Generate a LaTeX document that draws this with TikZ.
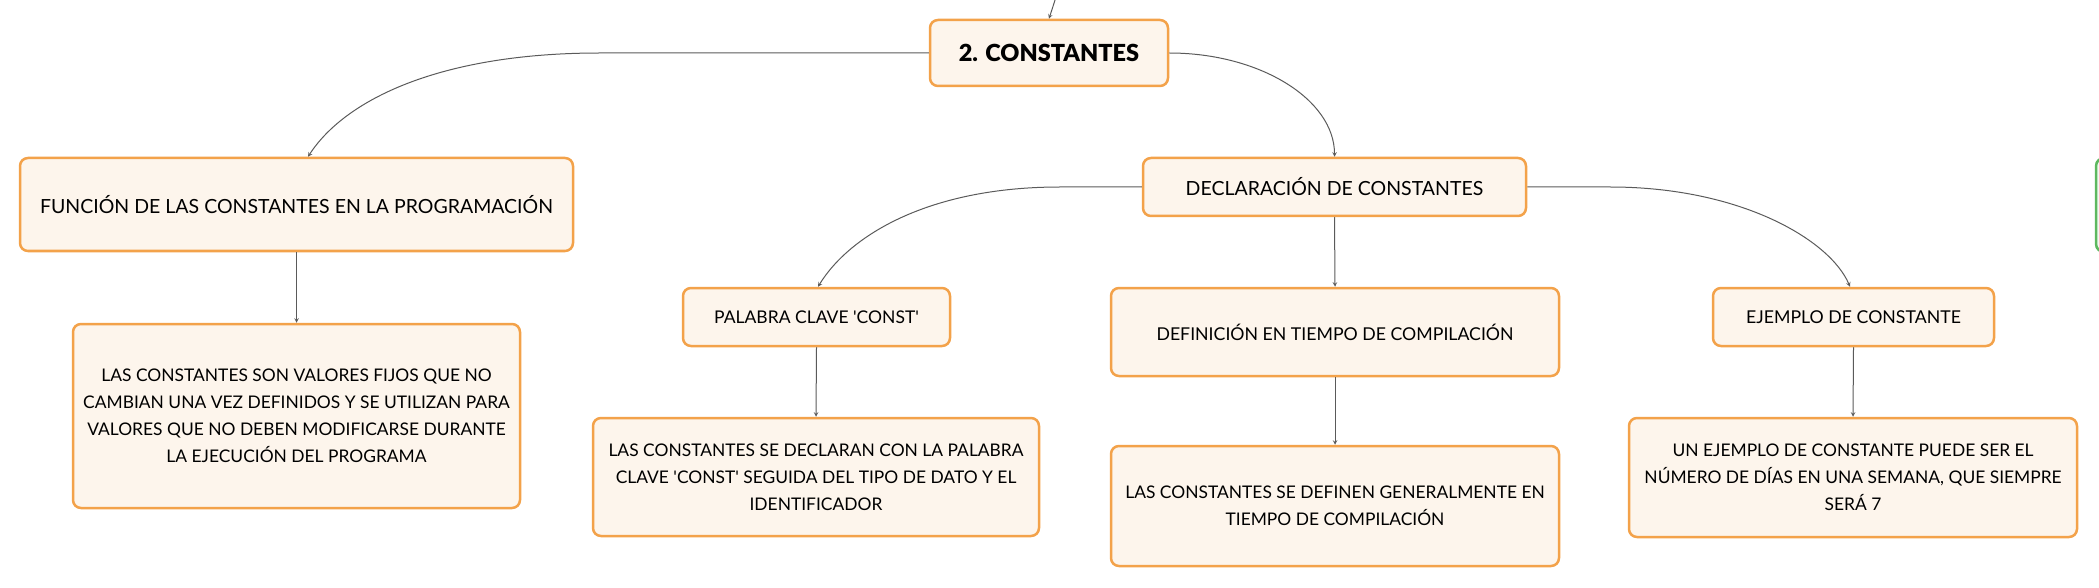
\documentclass[tikz,border=0pt]{standalone}
\usepackage{fontspec}
\setmainfont{Lato}
\newfontfamily\gruesa{Lato Black}
\definecolor{borde}{HTML}{F3A24A}
\definecolor{relleno}{HTML}{FDF5EC}
\definecolor{gris}{HTML}{5A5A5A}
\definecolor{verde}{HTML}{5DB85F}
\tikzset{
  caja/.style={draw=borde, fill=relleno, line width=2.5pt, rounded corners=8pt,
    align=center, inner sep=0pt, font=\fontsize{19.5}{27}\selectfont},
  texto/.style={caja, font=\fontsize{17.4}{27}\selectfont},
  linea/.style={draw=gris, line width=1pt, ->},
}
\begin{document}
\begin{tikzpicture}[x=1pt,y=-1pt,>=stealth]
   \useasboundingbox (0,0) rectangle (2099,588);
   \begin{scope}
   \clip (0,0) rectangle (2099,588);

   % ノード
   \node [caja, minimum width=238, minimum height=66, font=\fontsize{23.5}{27}\selectfont\gruesa] (const) at (1049,53) {2. CONSTANTES};
   \node [caja, minimum width=553, minimum height=93] (func) at (296.5,204.5) {FUNCIÓN DE LAS CONSTANTES EN LA PROGRAMACIÓN};
   \node [texto, minimum width=447, minimum height=184] (funcc) at (296.5,416) {LAS CONSTANTES SON VALORES FIJOS QUE NO\\ CAMBIAN UNA VEZ DEFINIDOS Y SE UTILIZAN PARA\\ VALORES QUE NO DEBEN MODIFICARSE DURANTE\\ LA EJECUCIÓN DEL PROGRAMA};
   \node [caja, minimum width=383, minimum height=58] (decl) at (1334.5,187) {DECLARACIÓN DE CONSTANTES};
   \node [caja, minimum width=267, minimum height=58, font=\fontsize{17.5}{27}\selectfont] (palabra) at (816.5,317) {PALABRA CLAVE \textquotesingle CONST\textquotesingle};
   \node [caja, minimum width=448, minimum height=88, font=\fontsize{17.7}{27}\selectfont] (defin) at (1335,332) {DEFINICIÓN EN TIEMPO DE COMPILACIÓN};
   \node [caja, minimum width=281, minimum height=58, font=\fontsize{17.7}{27}\selectfont] (ejemplo) at (1853.5,317) {EJEMPLO DE CONSTANTE};
   \node [texto, minimum width=446, minimum height=118] (palc) at (816,477) {LAS CONSTANTES SE DECLARAN CON LA PALABRA\\ CLAVE \textquotesingle CONST\textquotesingle\ SEGUIDA DEL TIPO DE DATO Y EL\\ IDENTIFICADOR};
   \node [texto, minimum width=448, minimum height=120] (defc) at (1335,506) {LAS CONSTANTES SE DEFINEN GENERALMENTE EN\\ TIEMPO DE COMPILACIÓN};
   \node [texto, minimum width=448, minimum height=119] (ejc) at (1853,477.5) {UN EJEMPLO DE CONSTANTE PUEDE SER EL\\ NÚMERO DE DÍAS EN UNA SEMANA, QUE SIEMPRE\\ SERÁ 7};

   % 右端の枠
   \draw [verde, line width=2.5pt, rounded corners=8pt, fill=verde!8] (2096,158) rectangle (2170,252);

   % 接続線
   \coordinate (arriba) at (1056,-3);
   \draw [linea] (arriba) -- (const.north);
   \draw [linea] (const.west) -- ++(-329,0) .. controls +(-160,0) and +(37,-57) .. ([xshift=11.5pt]func.north);
   \draw [linea] (const.east) .. controls +(91,0) and +(0,-57) .. (decl.north);
   \draw [linea] (decl.west) -- ++(-82,0) .. controls +(-130,0) and +(32,-52) .. ([xshift=1.5pt]palabra.north);
   \draw [linea] (decl.east) -- ++(83,0) .. controls +(130,0) and +(-20,-47) .. ([xshift=-3.5pt]ejemplo.north);
   \draw [linea] (decl.south) -- (defin.north);
   \draw [linea] (func.south) -- (funcc.north);
   \draw [linea] (palabra.south) -- (palc.north);
   \draw [linea] (defin.south) -- (defc.north);
   \draw [linea] (ejemplo.south) -- (ejc.north);
   \end{scope}
\end{tikzpicture}
\end{document}
